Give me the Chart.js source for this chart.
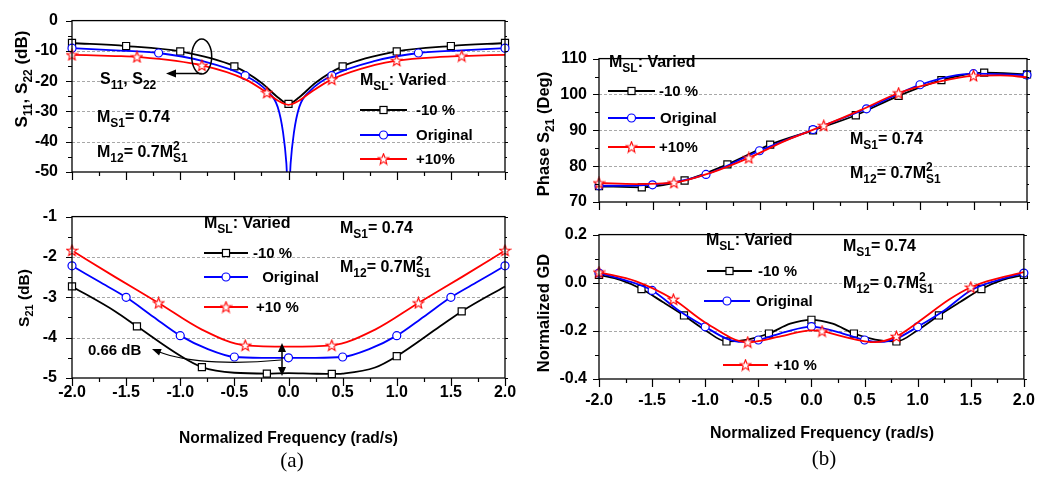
<!DOCTYPE html>
<html>
<head>
<meta charset="utf-8">
<script src="https://cdn.jsdelivr.net/npm/chart.js@4.4.0/dist/chart.umd.min.js"></script>
<style>
    html, body { margin: 0; padding: 0; background: #fff; }
    #fig { position: relative; width: 1054px; height: 478px; overflow: hidden; }
    #fig canvas { position: absolute; }
</style>
</head>
<body>
<div id="fig">
    <canvas id="s11Chart"></canvas>
    <canvas id="s21Chart"></canvas>
    <canvas id="phaseChart"></canvas>
    <canvas id="gdChart"></canvas>
    <canvas id="overlay" width="1054" height="478" style="left:0;top:0"></canvas>
</div>
<script>
// ---- values (x = normalized frequency, rad/s) ----

// (a) top: S11, S22 (dB)
const s11FreqMinus = [-2, -1.5, -1, -0.5, -0.25, -0.1, 0, 0.1, 0.25, 0.5, 1, 1.5, 2];
const s11Minus     = [-7.4, -8.4, -10.2, -15.1, -20.5, -25.3, -27.5, -25.3, -20.5, -15.1, -10.2, -8.4, -7.4];
const s11MarkMinus = [-2, -1.5, -1, -0.5, 0, 0.5, 1, 1.5, 2];
const s11FreqOrig  = [-2, -1.6, -1.2, -0.8, -0.4, -0.2, -0.1, -0.05, -0.02, 0, 0.02, 0.05, 0.1, 0.2, 0.4, 0.8, 1.2, 1.6, 2];
const s11Orig      = [-9.1, -9.8, -10.7, -13.3, -18.2, -23.2, -28.5, -37, -47, -60, -47, -37, -28.5, -23.2, -18.2, -13.3, -10.7, -9.8, -9.1];
const s11MarkOrig  = [-2, -1.2, -0.4, 0.4, 1.2, 2];
const s11FreqPlus  = [-2, -1.6, -1.4, -0.8, -0.4, -0.2, -0.1, 0, 0.1, 0.2, 0.4, 0.8, 1.0, 1.4, 1.6, 2];
const s11Plus      = [-11.3, -11.7, -12.0, -14.8, -19.4, -23.8, -26.4, -27.8, -26.4, -23.8, -19.4, -14.6, -13.2, -12.0, -11.7, -11.3];
const s11MarkPlus  = [-2, -1.4, -0.8, -0.2, 0.4, 1.0, 1.6];

// (a) bottom: S21 (dB)
const s21FreqMinus = [-2, -1.6, -1.4, -1.0, -0.8, -0.5, -0.2, 0, 0.2, 0.4, 0.5, 0.8, 1.0, 1.4, 1.6, 2];
const s21Minus     = [-2.73, -3.35, -3.72, -4.45, -4.73, -4.87, -4.89, -4.88, -4.89, -4.90, -4.89, -4.74, -4.46, -3.72, -3.35, -2.73];
const s21MarkMinus = [-2, -1.4, -0.8, -0.2, 0.4, 1.0, 1.6];
const s21FreqOrig  = [-2, -1.75, -1.5, -1.25, -1, -0.75, -0.5, -0.25, 0, 0.25, 0.5, 0.75, 1, 1.25, 1.5, 1.75, 2];
const s21Orig      = [-2.22, -2.61, -3.0, -3.48, -3.95, -4.28, -4.48, -4.50, -4.50, -4.50, -4.48, -4.28, -3.95, -3.48, -3.0, -2.61, -2.22];
const s21MarkOrig  = [-2, -1.5, -1, -0.5, 0, 0.5, 1, 1.5, 2];
const s21FreqPlus  = [-2, -1.6, -1.2, -0.8, -0.4, 0, 0.4, 0.8, 1.2, 1.6, 2];
const s21Plus      = [-1.84, -2.50, -3.14, -3.80, -4.19, -4.22, -4.19, -3.80, -3.14, -2.50, -1.84];
const s21MarkPlus  = [-2, -1.2, -0.4, 0.4, 1.2, 2];

// (b) top: Phase S21 (Deg)
const phFreqMinus = [-2, -1.6, -1.2, -0.8, -0.4, 0, 0.4, 0.8, 1.2, 1.6, 2];
const phMinus     = [74.4, 74.1, 76.0, 80.5, 86.0, 90.0, 94.2, 99.6, 104.0, 106.1, 105.6];
const phMarkMinus = [-2, -1.6, -1.2, -0.8, -0.4, 0, 0.4, 0.8, 1.2, 1.6, 2];
const phFreqOrig  = [-2, -1.5, -1, -0.5, 0, 0.5, 1, 1.5, 2];
const phOrig      = [74.5, 74.8, 77.7, 84.3, 90.2, 96.0, 102.7, 105.8, 105.4];
const phMarkOrig  = [-2, -1.5, -1, -0.5, 0, 0.5, 1, 1.5, 2];
const phFreqPlus  = [-2, -1.65, -1.3, -0.95, -0.6, -0.25, 0.1, 0.45, 0.8, 1.15, 1.5, 1.75, 2];
const phPlus      = [75.3, 75.0, 75.4, 78.2, 82.3, 87.2, 91.3, 95.7, 100.4, 103.4, 105.2, 105.3, 104.8];
const phMarkPlus  = [-2, -1.3, -0.6, 0.1, 0.8, 1.5];

// (b) bottom: Normalized GD
const gdFreqMinus = [-2, -1.8, -1.6, -1.4, -1.2, -1.0, -0.8, -0.6, -0.4, -0.2, 0, 0.2, 0.4, 0.6, 0.8, 1.0, 1.2, 1.4, 1.6, 1.8, 2];
const gdMinus     = [0.033, 0.012, -0.026, -0.080, -0.136, -0.197, -0.244, -0.236, -0.211, -0.170, -0.154, -0.170, -0.211, -0.236, -0.244, -0.197, -0.136, -0.080, -0.026, 0.012, 0.033];
const gdMarkMinus = [-2, -1.6, -1.2, -0.8, -0.4, 0, 0.4, 0.8, 1.2, 1.6, 2];
const gdFreqOrig  = [-2, -1.75, -1.5, -1.25, -1, -0.8, -0.65, -0.5, -0.25, 0, 0.25, 0.5, 0.65, 0.8, 1, 1.25, 1.5, 1.75, 2];
const gdOrig      = [0.040, 0.010, -0.032, -0.115, -0.183, -0.232, -0.246, -0.238, -0.205, -0.182, -0.205, -0.238, -0.246, -0.232, -0.183, -0.115, -0.032, 0.010, 0.040];
const gdMarkOrig  = [-2, -1.5, -1, -0.5, 0, 0.5, 1, 2];
const gdFreqPlus  = [-2, -1.65, -1.3, -1.0, -0.6, -0.3, 0, 0.1, 0.3, 0.6, 0.8, 1.0, 1.3, 1.5, 1.65, 2];
const gdPlus      = [0.044, 0.006, -0.069, -0.165, -0.247, -0.224, -0.198, -0.201, -0.224, -0.247, -0.223, -0.165, -0.069, -0.019, 0.006, 0.044];
const gdMarkPlus  = [-2, -1.3, -0.6, 0.1, 0.8, 1.5];

const legendLabels = ['-10 %', 'Original', '+10%'];

// ---- styling ----
const FONT = '"Liberation Sans", Arial, Helvetica, sans-serif';
const tickFont = { family: FONT, size: 16, weight: 'bold' };

function makeStar() {
    const c = document.createElement('canvas');
    c.width = 13; c.height = 13;
    const g = c.getContext('2d');
    g.beginPath();
    for (let i = 0; i < 10; i++) {
        const r = i % 2 ? 2.4 : 5.6;
        const a = -Math.PI / 2 + i * Math.PI / 5;
        g.lineTo(6.5 + r * Math.cos(a), 6.9 + r * Math.sin(a));
    }
    g.closePath();
    g.fillStyle = '#fff';
    g.fill();
    g.strokeStyle = '#ff0000';
    g.lineWidth = 1.1;
    g.stroke();
    return c;
}
const starImg = makeStar();

const styles = {
    minus: { color: '#000000', pointStyle: 'rect', radius: 5 },
    orig:  { color: '#0000ff', pointStyle: 'circle', radius: 4 },
    plus:  { color: '#ff0000', pointStyle: starImg, radius: 5 }
};

function series(xs, ys, marks, st) {
    return {
        data: xs.map((x, i) => ({ x: x, y: ys[i] })),
        borderColor: st.color,
        borderWidth: 1.8,
        cubicInterpolationMode: 'monotone',
        pointStyle: st.pointStyle,
        pointRadius: ctx => (ctx.raw && marks.some(m => Math.abs(m - ctx.raw.x) < 1e-6)) ? st.radius : 0,
        pointBackgroundColor: '#fff',
        pointBorderColor: st.color,
        pointBorderWidth: 1.2,
        clip: { left: 8, right: 8, top: 0, bottom: 0 }
    };
}

// frame, outward ticks and dashed grid (drawn from the scales)
const axisFrame = {
    id: 'axisFrame',
    beforeDatasetsDraw(chart) {
        const { ctx, chartArea: a, scales: { y } } = chart;
        ctx.save();
        ctx.strokeStyle = '#a8a8a8';
        ctx.lineWidth = 1;
        ctx.setLineDash([3, 2]);
        y.ticks.forEach(t => {
            if (t.value <= y.min || t.value >= y.max) return;
            const py = Math.round(y.getPixelForValue(t.value)) + 0.5;
            ctx.beginPath();
            ctx.moveTo(a.left, py);
            ctx.lineTo(a.right, py);
            ctx.stroke();
        });
        ctx.restore();
    },
    afterDatasetsDraw(chart, args, opts) {
        const { ctx, chartArea: a, scales: { x, y } } = chart;
        const isMajor = (v, step) => Math.abs(v / step - Math.round(v / step)) < 1e-6;
        ctx.save();
        ctx.strokeStyle = '#000';
        ctx.lineWidth = 1.3;
        ctx.strokeRect(a.left, a.top, a.right - a.left, a.bottom - a.top);
        ctx.lineWidth = 1.2;
        ctx.beginPath();
        for (let v = x.min; v <= x.max + 1e-9; v += opts.xMinor) {
            const px = Math.round(x.getPixelForValue(v)) + 0.5;
            ctx.moveTo(px, a.bottom);
            ctx.lineTo(px, a.bottom + (isMajor(v, opts.xMajor) ? 8 : 4));
        }
        for (let v = y.min; v <= y.max + 1e-9; v += opts.yMinor) {
            const py = Math.round(y.getPixelForValue(v)) + 0.5;
            const major = isMajor(v, opts.yMajor);
            ctx.moveTo(a.left, py);
            ctx.lineTo(a.left - (major ? 6 : 4), py);
            ctx.moveTo(a.right, py);
            ctx.lineTo(a.right + (major ? 3 : 2), py);
        }
        ctx.stroke();
        ctx.restore();
    }
};

function makePanel(id, rect, cfg) {
    const [L, T, R, B] = rect;
    const padL = 70, padT = 14, padR = 20, padB = 35;
    const cv = document.getElementById(id);
    cv.width = R - L + padL + padR;
    cv.height = B - T + padT + padB;
    cv.style.left = (L - padL) + 'px';
    cv.style.top = (T - padT) + 'px';
    return new Chart(cv, {
        type: 'line',
        data: { datasets: cfg.datasets },
        plugins: [axisFrame],
        options: {
            responsive: false,
            animation: false,
            devicePixelRatio: 1,
            layout: { padding: { left: 0, top: padT, right: padR, bottom: 0 } },
            plugins: {
                legend: { display: false },
                tooltip: { enabled: false },
                axisFrame: cfg.frame
            },
            scales: {
                x: {
                    type: 'linear', min: -2, max: 2,
                    grid: { display: false, drawTicks: false },
                    border: { display: false },
                    ticks: {
                        display: cfg.showX, stepSize: 0.5, autoSkip: false, maxRotation: 0,
                        padding: cfg.xPad, color: '#000', font: tickFont,
                        callback: v => v.toFixed(1)
                    },
                    afterFit: s => { s.height = padB; }
                },
                y: {
                    type: 'linear', min: cfg.yMin, max: cfg.yMax,
                    grid: { display: false, drawTicks: false },
                    border: { display: false },
                    ticks: {
                        stepSize: cfg.yStep, autoSkip: false, padding: cfg.yPad,
                        color: '#000', font: tickFont, callback: cfg.yFmt
                    },
                    afterFit: s => { s.width = padL; }
                }
            }
        }
    });
}

makePanel('s11Chart', [72, 11, 505, 172], {
    datasets: [
        series(s11FreqPlus, s11Plus, s11MarkPlus, styles.plus),
        series(s11FreqOrig, s11Orig, s11MarkOrig, styles.orig),
        series(s11FreqMinus, s11Minus, s11MarkMinus, styles.minus)
    ],
    showX: false, xPad: 5, yMin: -50, yMax: 0, yStep: 10, yPad: 14,
    yFmt: v => String(v),
    frame: { xMinor: 0.25, xMajor: 0.5, yMinor: 5, yMajor: 10 }
});

makePanel('s21Chart', [72, 206, 505, 378], {
    datasets: [
        series(s21FreqPlus, s21Plus, s21MarkPlus, styles.plus),
        series(s21FreqOrig, s21Orig, s21MarkOrig, styles.orig),
        series(s21FreqMinus, s21Minus, s21MarkMinus, styles.minus)
    ],
    showX: true, xPad: 5, yMin: -5, yMax: -1, yStep: 1, yPad: 15,
    yFmt: v => String(v),
    frame: { xMinor: 0.25, xMajor: 0.5, yMinor: 0.5, yMajor: 1 }
});

makePanel('phaseChart', [599, 51, 1027, 202], {
    datasets: [
        series(phFreqPlus, phPlus, phMarkPlus, styles.plus),
        series(phFreqOrig, phOrig, phMarkOrig, styles.orig),
        series(phFreqMinus, phMinus, phMarkMinus, styles.minus)
    ],
    showX: false, xPad: 5, yMin: 70, yMax: 110, yStep: 10, yPad: 12,
    yFmt: v => String(v),
    frame: { xMinor: 0.25, xMajor: 0.5, yMinor: 5, yMajor: 10 }
});

makePanel('gdChart', [599, 227, 1027, 379], {
    datasets: [
        series(gdFreqPlus, gdPlus, gdMarkPlus, styles.plus),
        series(gdFreqOrig, gdOrig, gdMarkOrig, styles.orig),
        series(gdFreqMinus, gdMinus, gdMarkMinus, styles.minus)
    ],
    showX: true, xPad: 12, yMin: -0.4, yMax: 0.2, yStep: 0.2, yPad: 12,
    yFmt: v => v.toFixed(1),
    frame: { xMinor: 0.25, xMajor: 0.5, yMinor: 0.1, yMajor: 0.2 }
});

// ---- text, legends and annotations ----
const ov = document.getElementById('overlay').getContext('2d');

function parseRich(s) {
    const out = [];
    const re = /_\{([^}]*)\}(?:\^\{([^}]*)\})?|\^\{([^}]*)\}|([^_^]+)/g;
    let m;
    while ((m = re.exec(s))) {
        if (m[4] !== undefined) out.push({ t: m[4] });
        else if (m[1] !== undefined) out.push({ sub: m[1], sup: m[2] });
        else out.push({ sup: m[3] });
    }
    return out;
}

function drawRich(g, s, x, cy, size, align) {
    const parts = parseRich(s);
    const big = 'bold ' + size + 'px ' + FONT;
    const small = 'bold ' + Math.round(size * 0.72) + 'px ' + FONT;
    const widths = parts.map(p => {
        if (p.t !== undefined) { g.font = big; return g.measureText(p.t).width; }
        g.font = small;
        return Math.max(p.sub ? g.measureText(p.sub).width : 0, p.sup ? g.measureText(p.sup).width : 0);
    });
    const total = widths.reduce((a, b) => a + b, 0);
    let cx = align === 'center' ? x - total / 2 : x;
    const base = cy + size * 0.36;
    g.textAlign = 'left';
    g.textBaseline = 'alphabetic';
    g.fillStyle = '#000';
    parts.forEach((p, i) => {
        if (p.t !== undefined) {
            g.font = big;
            g.fillText(p.t, cx, base);
        } else {
            g.font = small;
            if (p.sub) g.fillText(p.sub, cx, base + size * 0.3);
            if (p.sup) g.fillText(p.sup, cx, base - size * 0.45);
        }
        cx += widths[i];
    });
    return total;
}

function drawMarker(g, st, x, y) {
    g.save();
    g.fillStyle = '#fff';
    g.strokeStyle = st.color;
    g.lineWidth = 1.2;
    if (st.pointStyle === 'rect') {
        const h = st.radius * Math.SQRT1_2;
        g.fillRect(x - h, y - h, 2 * h, 2 * h);
        g.strokeRect(x - h, y - h, 2 * h, 2 * h);
    } else if (st.pointStyle === 'circle') {
        g.beginPath();
        g.arc(x, y, st.radius, 0, Math.PI * 2);
        g.fill();
        g.stroke();
    } else {
        g.drawImage(st.pointStyle, x - st.pointStyle.width / 2, y - st.pointStyle.height / 2);
    }
    g.restore();
}

function legendRow(g, st, x1, x2, y, label, tx) {
    g.strokeStyle = st.color;
    g.lineWidth = 1.8;
    g.beginPath();
    g.moveTo(x1, y);
    g.lineTo(x2, y);
    g.stroke();
    drawMarker(g, st, (x1 + x2) / 2, y);
    drawRich(g, label, tx, y, 15);
}

function drawLegend(g, head, rows) {
    drawRich(g, 'M_{SL}: Varied', head[0], head[1], 16);
    const keys = ['minus', 'orig', 'plus'];
    rows.forEach((r, i) => legendRow(g, styles[keys[i]], r[0], r[1], r[2], r[4] || legendLabels[i], r[3]));
}

function arrowHead(g, tx, ty, ang, len, half) {
    g.beginPath();
    g.moveTo(tx, ty);
    g.lineTo(tx - len * Math.cos(ang) + half * Math.sin(ang), ty - len * Math.sin(ang) - half * Math.cos(ang));
    g.lineTo(tx - len * Math.cos(ang) - half * Math.sin(ang), ty - len * Math.sin(ang) + half * Math.cos(ang));
    g.closePath();
    g.fill();
}

function verticalTitle(g, s, cx, cy, size) {
    g.save();
    g.translate(cx, cy);
    g.rotate(-Math.PI / 2);
    drawRich(g, s, 0, 0, size, 'center');
    g.restore();
}

// y axis titles
verticalTitle(ov, 'S_{11}, S_{22} (dB)', 21, 79, 17);
verticalTitle(ov, 'S_{21} (dB)', 23, 298, 15.5);
verticalTitle(ov, 'Phase S_{21} (Deg)', 543, 134, 16.5);
verticalTitle(ov, 'Normalized GD', 543, 313, 16.5);

// x axis titles and panel captions
ov.fillStyle = '#000';
ov.textAlign = 'center';
ov.textBaseline = 'middle';
ov.font = 'bold 17px ' + FONT;
ov.fillText('Normalized Frequency (rad/s)', 288.5, 438, 219);
ov.fillText('Normalized Frequency (rad/s)', 822, 433, 224);
ov.font = '21px "Liberation Serif", "Times New Roman", serif';
ov.fillText('(a)', 292, 461);
ov.fillText('(b)', 824, 459);

// panel (a) top
drawLegend(ov, [360, 79], [[360, 407, 110, 416], [360, 407, 135, 416], [360, 407, 159, 416]]);
drawRich(ov, 'M_{S1}= 0.74', 97, 116, 16);
drawRich(ov, 'M_{12}= 0.7M_{S1}^{2}', 97, 151, 16);
drawRich(ov, 'S_{11}, S_{22}', 100, 78, 16);
ov.strokeStyle = '#000';
ov.fillStyle = '#000';
ov.lineWidth = 1.5;
ov.beginPath();
ov.ellipse(201.7, 56.5, 10, 17.5, 0, 0, Math.PI * 2);
ov.stroke();
ov.beginPath();
ov.moveTo(201.7, 73.5);
ov.lineTo(172, 73.5);
ov.stroke();
arrowHead(ov, 166, 73.5, Math.PI, 10, 4);

// panel (a) bottom
drawLegend(ov, [204, 222], [[204, 248, 253, 253], [204, 248, 277, 258, ' Original'], [204, 248, 307, 256, '+10 %']]);
drawRich(ov, 'M_{S1}= 0.74', 340, 227, 16);
drawRich(ov, 'M_{12}= 0.7M_{S1}^{2}', 340, 266, 16);
drawRich(ov, '0.66 dB', 88, 349.5, 15);
ov.strokeStyle = '#000';
ov.fillStyle = '#000';
ov.lineWidth = 1.5;
ov.beginPath();
ov.moveTo(282, 350);
ov.lineTo(282, 369);
ov.stroke();
arrowHead(ov, 282, 343, -Math.PI / 2, 9, 4);
arrowHead(ov, 282, 376, Math.PI / 2, 9, 4);
ov.lineWidth = 1.2;
ov.beginPath();
ov.moveTo(281, 360);
ov.bezierCurveTo(240, 364, 190, 364, 158, 351.5);
ov.stroke();
arrowHead(ov, 152, 349, Math.atan2(349 - 364, 152 - 190), 9, 3.5);

// panel (b) top
drawLegend(ov, [609, 61], [[608, 655, 91, 659], [608, 655, 118, 660], [608, 655, 147, 659]]);
drawRich(ov, 'M_{S1}= 0.74', 850, 138, 16);
drawRich(ov, 'M_{12}= 0.7M_{S1}^{2}', 850, 172, 16);

// panel (b) bottom
drawLegend(ov, [706, 239], [[707, 752, 271, 758], [704, 750, 301, 756], [723, 768, 365, 774, '+10 %']]);
drawRich(ov, 'M_{S1}= 0.74', 843, 245, 16);
drawRich(ov, 'M_{12}= 0.7M_{S1}^{2}', 843, 282, 16);
</script>
</body>
</html>
